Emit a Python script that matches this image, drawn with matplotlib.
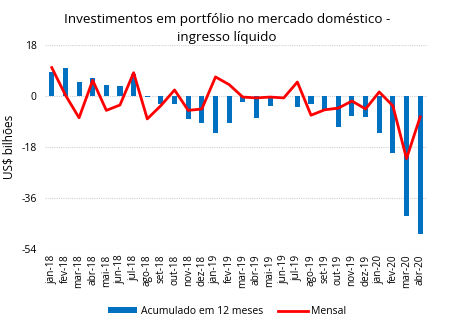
import numpy as np
import matplotlib.pyplot as plt

# months, jan-18 .. abr-20
meses = ["jan-18", "fev-18", "mar-18", "abr-18", "mai-18", "jun-18", "jul-18",
         "ago-18", "set-18", "out-18", "nov-18", "dez-18", "jan-19", "fev-19",
         "mar-19", "abr-19", "mai-19", "jun-19", "jul-19", "ago-19", "set-19",
         "out-19", "nov-19", "dez-19", "jan-20", "fev-20", "mar-20", "abr-20"]

# 12-month accumulated (US$ bi)
acumulado = [8.5, 9.9, 4.8, 6.4, 4.0, 3.6, 7.9, -0.5, -3.0, -2.7, -8.3, -9.7,
             -12.9, -9.7, -2.2, -7.9, -3.4, -0.2, -4.0, -3.0, -4.8, -11.1,
             -7.1, -7.6, -12.9, -20.1, -42.3, -48.8]

# monthly (US$ bi)
mensal = [10.0, 0.3, -7.7, 5.5, -5.1, -3.2, 8.2, -8.1, -3.4, 2.1, -5.1, -4.6,
          6.7, 4.0, -0.4, -0.7, -0.4, -0.7, 4.9, -6.8, -4.9, -4.3, -1.8, -4.6,
          1.4, -3.5, -22.1, -7.4]

yticks = [18, 0, -18, -36, -54]

plt.rcParams['font.family'] = ['Open Sans', 'DejaVu Sans']

fig = plt.figure(figsize=(4.54, 3.23), dpi=100)
ax = fig.add_axes([0.099, 0.229, 0.8415, 0.632])

x = np.arange(len(meses))
bars = ax.bar(x, acumulado, width=0.37, color="#0070C0", label="Acumulado em 12 meses", zorder=2)
line, = ax.plot(x, mensal, color="#FF0000", lw=2.0, label="Mensal", zorder=3)

ax.set_xlim(-0.5, len(meses) - 0.5)
ax.set_ylim(-54, 18)
ax.set_yticks(yticks)
ax.set_yticklabels([str(t) for t in yticks], fontsize=7.5)
ax.set_xticks(x)
ax.set_xticklabels(meses, rotation=90, fontsize=7.2)
ax.tick_params(length=0, pad=6)
ax.tick_params(axis="x", pad=4)

for t in yticks:
    ax.axhline(t, color="#d0d0d0", lw=0.8, ls=(0, (1, 1)), zorder=1)
for s in ax.spines.values():
    s.set_visible(False)

ax.set_ylabel("US$ bilhões", fontsize=8.5, labelpad=4)
fig.suptitle("Investimentos em portfólio no mercado doméstico -\ningresso líquido",
             fontsize=9.7, y=0.96, linespacing=1.5)

fig.legend([bars, line], ["Acumulado em 12 meses", "Mensal"],
           loc="lower center", bbox_to_anchor=(0.5, -0.01), ncol=2, frameon=False,
           fontsize=7.5, handlelength=2.8, handleheight=0.5, columnspacing=1.5,
           handletextpad=0.3)

fig.savefig("out.png", dpi=100)
